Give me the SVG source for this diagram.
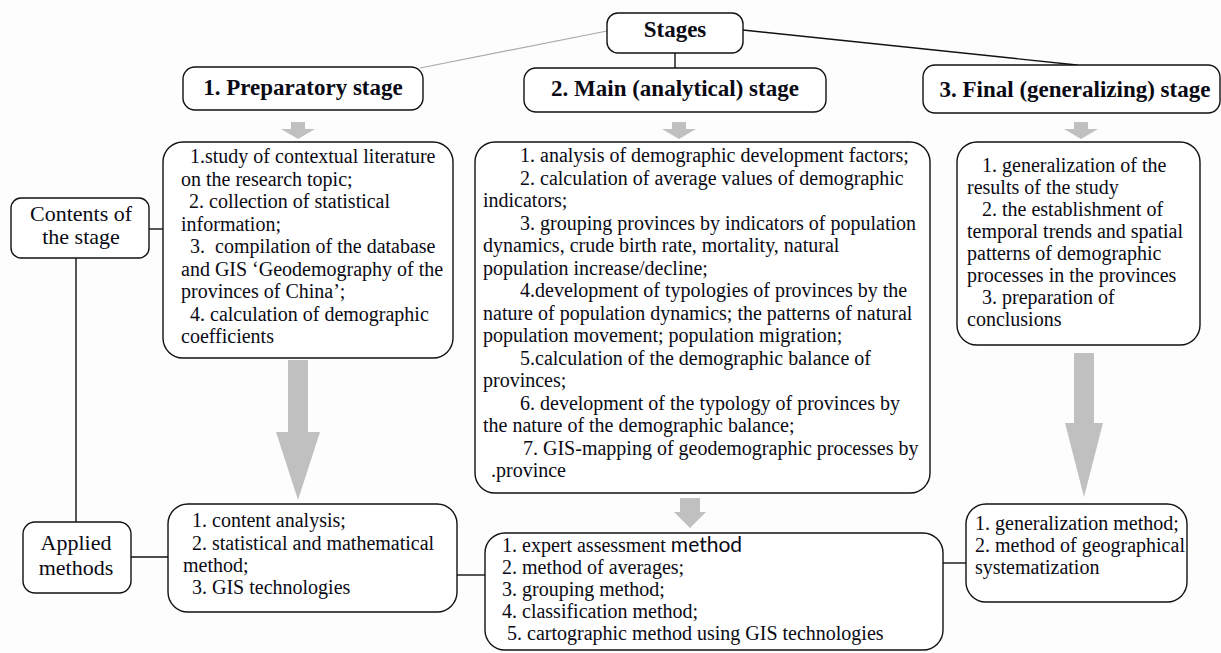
<svg xmlns="http://www.w3.org/2000/svg" width="1221" height="653" viewBox="0 0 1221 653">
<style>
.bg{fill:#fdfdfd}
.box{fill:#ffffff;stroke:#111;stroke-width:1.4}
.hd{font-family:"Liberation Serif","Times New Roman",serif;font-weight:bold;font-size:23px;fill:#0a0a14;text-anchor:middle}
.lb{font-family:"Liberation Serif","Times New Roman",serif;font-size:22px;fill:#0a0a14;text-anchor:middle}
.tx{font-family:"Liberation Serif","Times New Roman",serif;font-size:20px;fill:#0a0a14}
.ln{stroke:#111;stroke-width:1.4;fill:none}
.gl{stroke:#aaaaaa;stroke-width:1.2;fill:none}
.ar{fill:#c0c0c0}
</style>
<rect class="bg" x="0" y="0" width="1221" height="653"/>

<g id="connectors">
  <line class="gl" x1="607" y1="31" x2="420" y2="68"/>
  <line class="ln" x1="743" y1="30" x2="1077" y2="65"/>
  <line class="ln" x1="675" y1="53" x2="675" y2="68"/>
  <line class="ln" x1="149" y1="229" x2="163" y2="229"/>
  <line class="ln" x1="76" y1="258" x2="76" y2="522"/>
  <line class="ln" x1="131" y1="557" x2="168" y2="557"/>
  <line class="ln" x1="457" y1="575" x2="485" y2="575"/>
  <line class="ln" x1="943" y1="563" x2="966" y2="563"/>
  <path class="ar" d="M291,122 H305 V129 H315 L298,139 L281,129 H291 Z"/>
  <path class="ar" d="M672,122 H686 V129 H696 L679,139 L662,129 H672 Z"/>
  <path class="ar" d="M1074,122 H1088 V129 H1098 L1081,139 L1064,129 H1074 Z"/>
  <path class="ar" d="M680,498 H700 V512 H706 L690,528 L674,512 H680 Z"/>
  <path class="ar" d="M288,360 H308 V432 H320 L298,500 L276,432 H288 Z"/>
  <path class="ar" d="M1074,353 H1094 V423 H1103 L1084,497 L1065,423 H1074 Z"/>
</g>

<g id="stages">
  <rect class="box" x="607" y="13" width="136" height="40" rx="11"/>
  <text class="hd" x="675" y="37">Stages</text>
</g>

<g id="stage1">
  <rect class="box" x="183" y="67" width="240" height="43" rx="12"/>
  <text class="hd" x="303" y="95">1. Preparatory stage</text>
</g>

<g id="stage2">
  <rect class="box" x="524" y="68" width="302" height="44" rx="12"/>
  <text class="hd" x="675" y="96">2. Main (analytical) stage</text>
</g>

<g id="stage3">
  <rect class="box" x="923" y="65" width="297" height="48" rx="12"/>
  <text class="hd" x="1075" y="97">3. Final (generalizing) stage</text>
</g>

<g id="contents-label">
  <rect class="box" x="11" y="198" width="138" height="60" rx="10"/>
  <text class="lb" x="81" y="221">Contents of</text>
  <text class="lb" x="81" y="244">the stage</text>
</g>

<g id="methods-label">
  <rect class="box" x="23" y="522" width="108" height="71" rx="12"/>
  <text class="lb" x="76" y="550">Applied</text>
  <text class="lb" x="76" y="575">methods</text>
</g>

<g id="content1">
  <rect class="box" x="163" y="142" width="290" height="216" rx="20"/>
  <text class="tx" xml:space="preserve"><tspan x="190" y="163">1.study of contextual literature</tspan><tspan x="181" y="185.5">on the research topic;</tspan><tspan x="189" y="208">2. collection of statistical</tspan><tspan x="181" y="230.5">information;</tspan><tspan x="190" y="253">3.  compilation of the database</tspan><tspan x="181" y="275.5">and GIS ‘Geodemography of the</tspan><tspan x="181" y="298">provinces of China’;</tspan><tspan x="190" y="320.5">4. calculation of demographic</tspan><tspan x="181" y="343">coefficients</tspan></text>
</g>

<g id="content2">
  <rect class="box" x="475" y="142" width="455" height="351" rx="20"/>
  <text class="tx"><tspan x="520" y="162">1. analysis of demographic development factors;</tspan><tspan x="520" y="184.5">2. calculation of average values of demographic</tspan><tspan x="483" y="207">indicators;</tspan><tspan x="520" y="229.5">3. grouping provinces by indicators of population</tspan><tspan x="483" y="252">dynamics, crude birth rate, mortality, natural</tspan><tspan x="483" y="274.5">population increase/decline;</tspan><tspan x="520" y="297">4.development of typologies of provinces by the</tspan><tspan x="483" y="319.5">nature of population dynamics; the patterns of natural</tspan><tspan x="483" y="342">population movement; population migration;</tspan><tspan x="520" y="364.5">5.calculation of the demographic balance of</tspan><tspan x="483" y="387">provinces;</tspan><tspan x="520" y="409.5">6. development of the typology of provinces by</tspan><tspan x="483" y="432">the nature of the demographic balance;</tspan><tspan x="523" y="454.5">7. GIS-mapping of geodemographic processes by</tspan><tspan x="491" y="477">.province</tspan></text>
</g>

<g id="content3">
  <rect class="box" x="957" y="142" width="243" height="203" rx="20"/>
  <text class="tx"><tspan x="982" y="172">1. generalization of the</tspan><tspan x="967" y="194">results of the study</tspan><tspan x="982" y="216">2. the establishment of</tspan><tspan x="967" y="238">temporal trends and spatial</tspan><tspan x="967" y="260">patterns of demographic</tspan><tspan x="967" y="282">processes in the provinces</tspan><tspan x="982" y="304">3. preparation of</tspan><tspan x="967" y="326">conclusions</tspan></text>
</g>

<g id="methods1">
  <rect class="box" x="168" y="504" width="289" height="108" rx="20"/>
  <text class="tx"><tspan x="192" y="527">1. content analysis;</tspan><tspan x="192" y="549.5">2. statistical and mathematical</tspan><tspan x="183" y="572">method;</tspan><tspan x="192" y="594">3. GIS technologies</tspan></text>
</g>

<g id="methods2">
  <rect class="box" x="485" y="533" width="458" height="117" rx="20"/>
  <text class="tx"><tspan x="502" y="552">1. expert assessment <tspan style="font-family:Lato,'Open Sans',sans-serif;font-size:21px">method</tspan></tspan><tspan x="502" y="574">2. method of averages;</tspan><tspan x="502" y="596">3. grouping method;</tspan><tspan x="502" y="618">4. classification method;</tspan><tspan x="507" y="640">5. cartographic method using GIS technologies</tspan></text>
</g>

<g id="methods3">
  <rect class="box" x="966" y="504" width="221" height="98" rx="20"/>
  <text class="tx"><tspan x="975" y="530">1. generalization method;</tspan><tspan x="975" y="552">2. method of geographical</tspan><tspan x="975" y="574">systematization</tspan></text>
</g>
</svg>
